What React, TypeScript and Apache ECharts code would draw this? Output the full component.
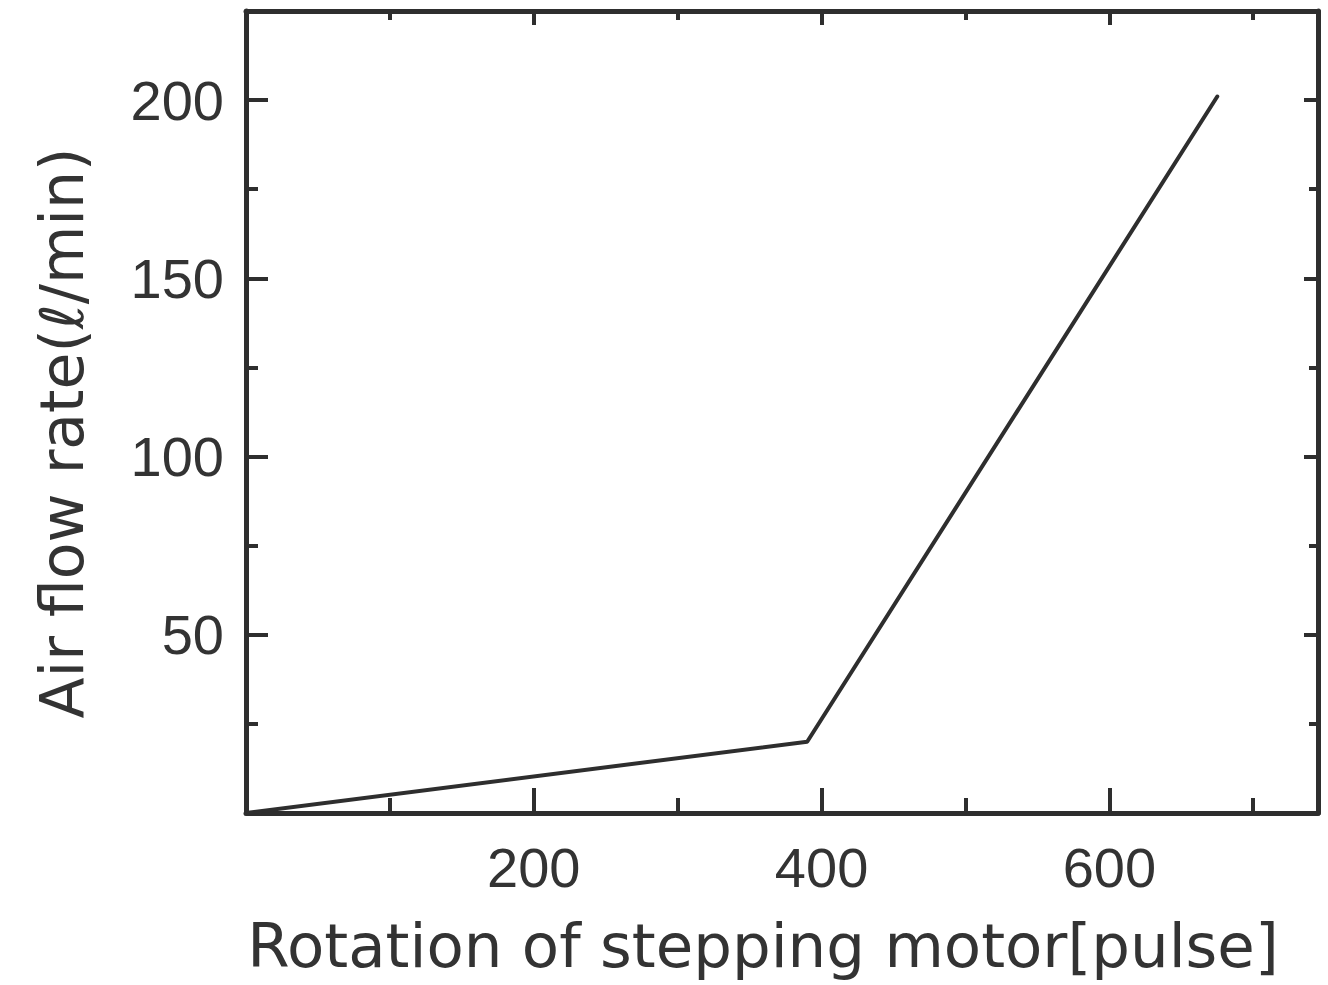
import React, { useEffect, useRef } from "react";
import * as echarts from "echarts";

// ---- data ----
const pulses: number[] = [0, 390, 675];
const airFlow: number[] = [0, 20, 201];

const xMajorTicks: number[] = [200, 400, 600];
const xMinorTicks: number[] = [100, 300, 500, 700];
const yMajorTicks: number[] = [50, 100, 150, 200];
const yMinorTicks: number[] = [25, 75, 125, 175];

const xRange: [number, number] = [0, 745];
const yRange: [number, number] = [0, 225];

const xTitle = "Rotation of stepping motor[pulse]";
const yTitle = "Air flow rate(\u2113/min)";

const INK = "#2e2e2e";
const TEXT = "#333333";

function makeAxis(
  kind: "x" | "y",
  position: string,
  ticks: number[],
  tickLen: number,
  showLine: boolean,
  showLabel: boolean
) {
  const range = kind === "x" ? xRange : yRange;
  return {
    type: "value",
    position,
    min: range[0],
    max: range[1],
    axisLine: {
      show: showLine,
      onZero: false,
      lineStyle: { color: INK, width: 5 },
    },
    axisTick: {
      show: true,
      inside: true,
      length: tickLen,
      customValues: ticks,
      lineStyle: { color: INK, width: 4 },
    },
    axisLabel: {
      show: showLabel,
      customValues: ticks,
      color: TEXT,
      fontSize: 56,
      fontFamily: "Liberation Sans, Arial, sans-serif",
      margin: kind === "x" ? 26 : 22,
    },
    splitLine: { show: false },
    minorTick: { show: false },
  };
}

export default function App() {
  const ref = useRef<HTMLDivElement>(null);

  useEffect(() => {
    if (!ref.current) return;
    const chart = echarts.init(ref.current, undefined, { renderer: "svg" });
    const lineData = pulses.map((p, i) => [p, airFlow[i]]);
    chart.setOption({
      animation: false,
      backgroundColor: "#ffffff",
      grid: { left: 246, right: 10, top: 11, bottom: 172 },
      xAxis: [
        makeAxis("x", "bottom", xMajorTicks, 25, true, true),
        makeAxis("x", "bottom", xMinorTicks, 15, false, false),
        makeAxis("x", "top", xMajorTicks, 14, true, false),
        makeAxis("x", "top", xMinorTicks, 9, false, false),
      ],
      yAxis: [
        makeAxis("y", "left", yMajorTicks, 22, true, true),
        makeAxis("y", "left", yMinorTicks, 12, false, false),
        makeAxis("y", "right", yMajorTicks, 14, true, false),
        makeAxis("y", "right", yMinorTicks, 9, false, false),
      ],
      series: [
        {
          type: "line",
          xAxisIndex: 0,
          yAxisIndex: 0,
          data: lineData,
          symbol: "none",
          lineStyle: { color: INK, width: 4, cap: "round", join: "round" },
        },
      ],
      graphic: [
        {
          type: "text",
          x: 763,
          y: 945,
          style: {
            text: xTitle,
            fill: TEXT,
            fontSize: 61,
            fontFamily: "DejaVu Sans, sans-serif",
            align: "center",
            verticalAlign: "middle",
          },
        },
        {
          type: "text",
          x: 62,
          y: 433,
          rotation: Math.PI / 2,
          style: {
            text: yTitle,
            fill: TEXT,
            fontSize: 60,
            fontFamily: "DejaVu Sans, sans-serif",
            align: "center",
            verticalAlign: "middle",
          },
        },
      ],
    });
    return () => chart.dispose();
  }, []);

  return (
    <div
      ref={ref}
      style={{ position: "absolute", left: 0, top: 0, width: 1328, height: 985 }}
    />
  );
}
